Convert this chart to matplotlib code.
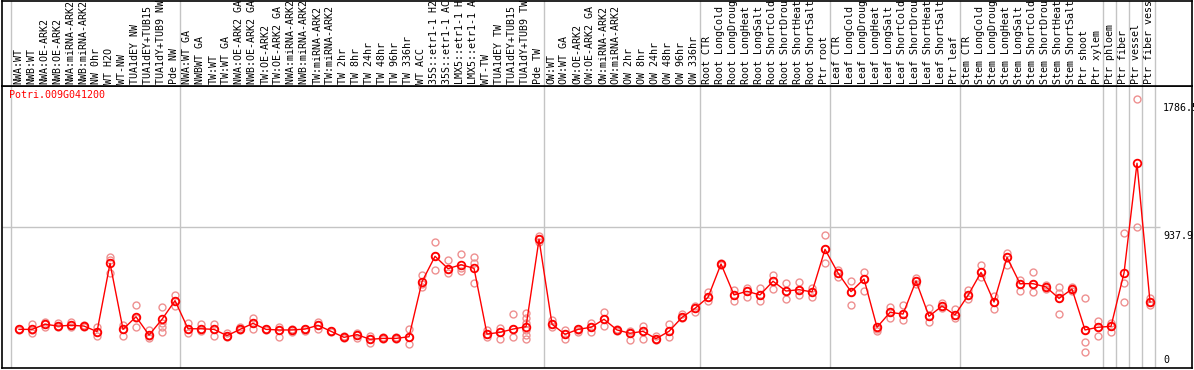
import numpy as np
import matplotlib
matplotlib.use("Agg")
import matplotlib.pyplot as plt

gene = "Potri.009G041200"

labels = [
    "NWA:WT", "NWB:WT", "NWA:OE-ARK2", "NWB:OE-ARK2", "NWA:miRNA-ARK2",
    "NWB:miRNA-ARK2", "NW 0hr", "WT H2O", "WT-NW", "TUA1dEY NW",
    "TUA1dEY+TUB15 NW", "TUA1dY+TUB9 NW", "Pde NW",
    "NWA:WT GA", "NWBWT GA", "TW:WT", "TW:WT GA", "NWA:OE-ARK2 GA",
    "NWB:OE-ARK2 GA", "TW:OE-ARK2", "TW:OE-ARK2 GA", "NWA:miRNA-ARK2 GA",
    "NWB:miRNA-ARK2 GA", "TW:miRNA-ARK2", "TW:miRNA-ARK2 GA", "TW 2hr", "TW 8hr",
    "TW 24hr", "TW 48hr", "TW 96hr", "TW 336hr", "WT ACC", "35S::etr1-1 H2O",
    "35S::etr1-1 ACC", "LMX5::etr1-1 H2O", "LMX5::etr1-1 ACC", "WT-TW",
    "TUA1dEY TW", "TUA1dEY+TUB15 TW", "TUA1dY+TUB9 TW", "Pde TW",
    "OW:WT", "OW:WT GA", "OW:OE-ARK2", "OW:OE-ARK2 GA", "OW:miRNA-ARK2",
    "OW:miRNA-ARK2 GA", "OW 2hr", "OW 8hr", "OW 24hr", "OW 48hr", "OW 96hr",
    "OW 336hr",
    "Root CTR", "Root LongCold", "Root LongDrought", "Root LongHeat",
    "Root LongSalt", "Root ShortCold", "Root ShortDrought", "Root ShortHeat",
    "Root ShortSalt", "Ptr root",
    "Leaf CTR", "Leaf LongCold", "Leaf LongDrought", "Leaf LongHeat",
    "Leaf LongSalt", "Leaf ShortCold", "Leaf ShortDrought", "Leaf ShortHeat",
    "Leaf ShortSalt", "Ptr leaf",
    "Stem CTR", "Stem LongCold", "Stem LongDrought", "Stem LongHeat",
    "Stem LongSalt", "Stem ShortCold", "Stem ShortDrought", "Stem ShortHeat",
    "Stem ShortSalt", "Ptr shoot", "Ptr xylem",
    "Ptr phloem", "Ptr fiber", "Ptr vessel", "Ptr fiber vessel",
]

# mean expression per sample
means = [
    257, 257, 291, 279, 284, 279, 242, 696, 257, 341, 219, 324, 448,
    261, 261, 257, 215, 257, 297, 257, 253, 253, 259, 284, 244, 204, 222,
    191, 197, 197, 208, 574, 743, 661, 687, 663, 226, 237, 259, 275, 856,
    291, 224, 257, 271, 324, 253, 231, 244, 195, 244, 337, 397,
    470, 692, 486, 510, 486, 577, 512, 521, 506, 789,
    632, 508, 592, 271, 370, 359, 579, 344, 412, 353,
    483, 636, 439, 736, 561, 561, 539, 463, 525, 253, 271,
    277, 632, 1362, 439,
]

# individual replicates per sample
reps = [
    [255, 257, 260], [291, 231, 250], [308, 271, 291], [297, 271, 280],
    [308, 271, 284], [284, 275, 279], [275, 215, 242], [736, 630, 720],
    [286, 215, 262], [419, 275, 330], [253, 197, 210], [408, 297, 271, 242],
    [486, 412, 448],
    [297, 235, 261], [291, 248, 261], [291, 215, 262], [235, 204, 215],
    [271, 257, 250], [333, 257, 297], [262, 257, 250], [271, 204, 253],
    [262, 242, 253], [262, 248, 259], [305, 262, 284], [248, 240, 244],
    [204, 197, 210], [235, 197, 222], [215, 168, 191], [204, 191, 197],
    [204, 191, 197], [262, 160, 208], [619, 541, 560], [840, 652, 743],
    [718, 634, 661], [756, 663, 645], [736, 696, 563], [253, 204, 226],
    [269, 191, 237], [359, 204, 259], [364, 330, 297, 253, 220, 191],
    [878, 840, 856],
    [319, 271, 291], [253, 191, 224], [242, 257, 250], [297, 242, 271],
    [373, 282, 324], [257, 248, 253], [248, 186, 231], [281, 193, 244],
    [215, 186, 195], [293, 204, 244], [359, 330, 337], [412, 375, 397],
    [503, 448, 470], [700, 685, 692], [519, 448, 486], [532, 474, 510],
    [532, 448, 486], [619, 528, 577], [565, 457, 512], [572, 486, 521],
    [532, 474, 506], [883, 696, 789],
    [652, 607, 632], [581, 419, 508], [641, 512, 592], [271, 248, 260],
    [404, 331, 370], [419, 319, 359], [599, 559, 579], [397, 308, 344],
    [430, 400, 412], [392, 331, 353],
    [519, 457, 483], [685, 607, 636], [479, 390, 439], [763, 685, 736],
    [585, 512, 561], [636, 508, 561], [555, 525, 539], [537, 359, 497, 463],
    [540, 525, 512], [463, 175, 104, 253], [315, 215, 271],
    [297, 242, 277], [896, 563, 439], [1786.5, 936], [463, 419, 439],
]

# last sample index of each group (separators drawn after them)
group_ends = [-1, 12, 40, 52, 62, 72, 83, 84, 85, 86, 87]

W, H = 1194, 370
fig = plt.figure(figsize=(W / 100, H / 100), dpi=100)
mono = "DejaVu Sans Mono"

x = np.arange(len(labels))
xl = (-1.31, 90.23)
ymax = max(max(r) for r in reps) * 1.05

ax = fig.add_axes([2 / W, 2 / H, 1190 / W, 282 / H])
hx = fig.add_axes([2 / W, 284 / H, 1190 / W, 85.5 / H])

for a in (ax, hx):
    a.set_xlim(*xl)
    a.set_xticks([])
    a.set_yticks([])
    for s in a.spines.values():
        s.set_color("black")
        s.set_linewidth(1.2)
    for g in group_ends:
        a.axvline(g + 0.4, color="#c4c4c4", lw=1, zorder=0)

ax.set_ylim(0, ymax)
hx.set_ylim(0, 1)

# horizontal mid gridline
ax.hlines(ymax / 2, xl[0], 87.77, color="#c4c4c4", lw=1, zorder=0)

# replicates
for i, r in enumerate(reps):
    ax.plot([i] * len(r), r, "o", ms=5, mfc="none", mec="#ee9090", mew=1,
            zorder=2, clip_on=False)

ax.plot(x, means, "-", color="red", lw=1, zorder=3)
ax.plot(x, means, "o", ms=5.5, mfc="none", mec="red", mew=1.3, zorder=4)

# y labels on right
top = max(max(r) for r in reps)
ax.text(88.0, top - 25, "%.1f" % top, fontsize=7.2, family=mono, va="top", ha="left")
ax.text(88.0, ymax / 2 - 25, "%.1f" % (ymax / 2), fontsize=7.2, family=mono,
        va="top", ha="left")
ax.text(88.0, 20, "0", fontsize=7.2, family=mono, va="bottom", ha="left")

ax.text(0.006, 0.985, gene, transform=ax.transAxes, color="red", fontsize=7.2,
        family=mono, va="top", ha="left")

# rotated sample labels in header
for i, lab in enumerate(labels):
    hx.text(i - 0.05, 0.02, lab, rotation=90, fontsize=7.2, family=mono,
            va="bottom", ha="center", clip_on=True)

fig.savefig("out.png", dpi=100)
